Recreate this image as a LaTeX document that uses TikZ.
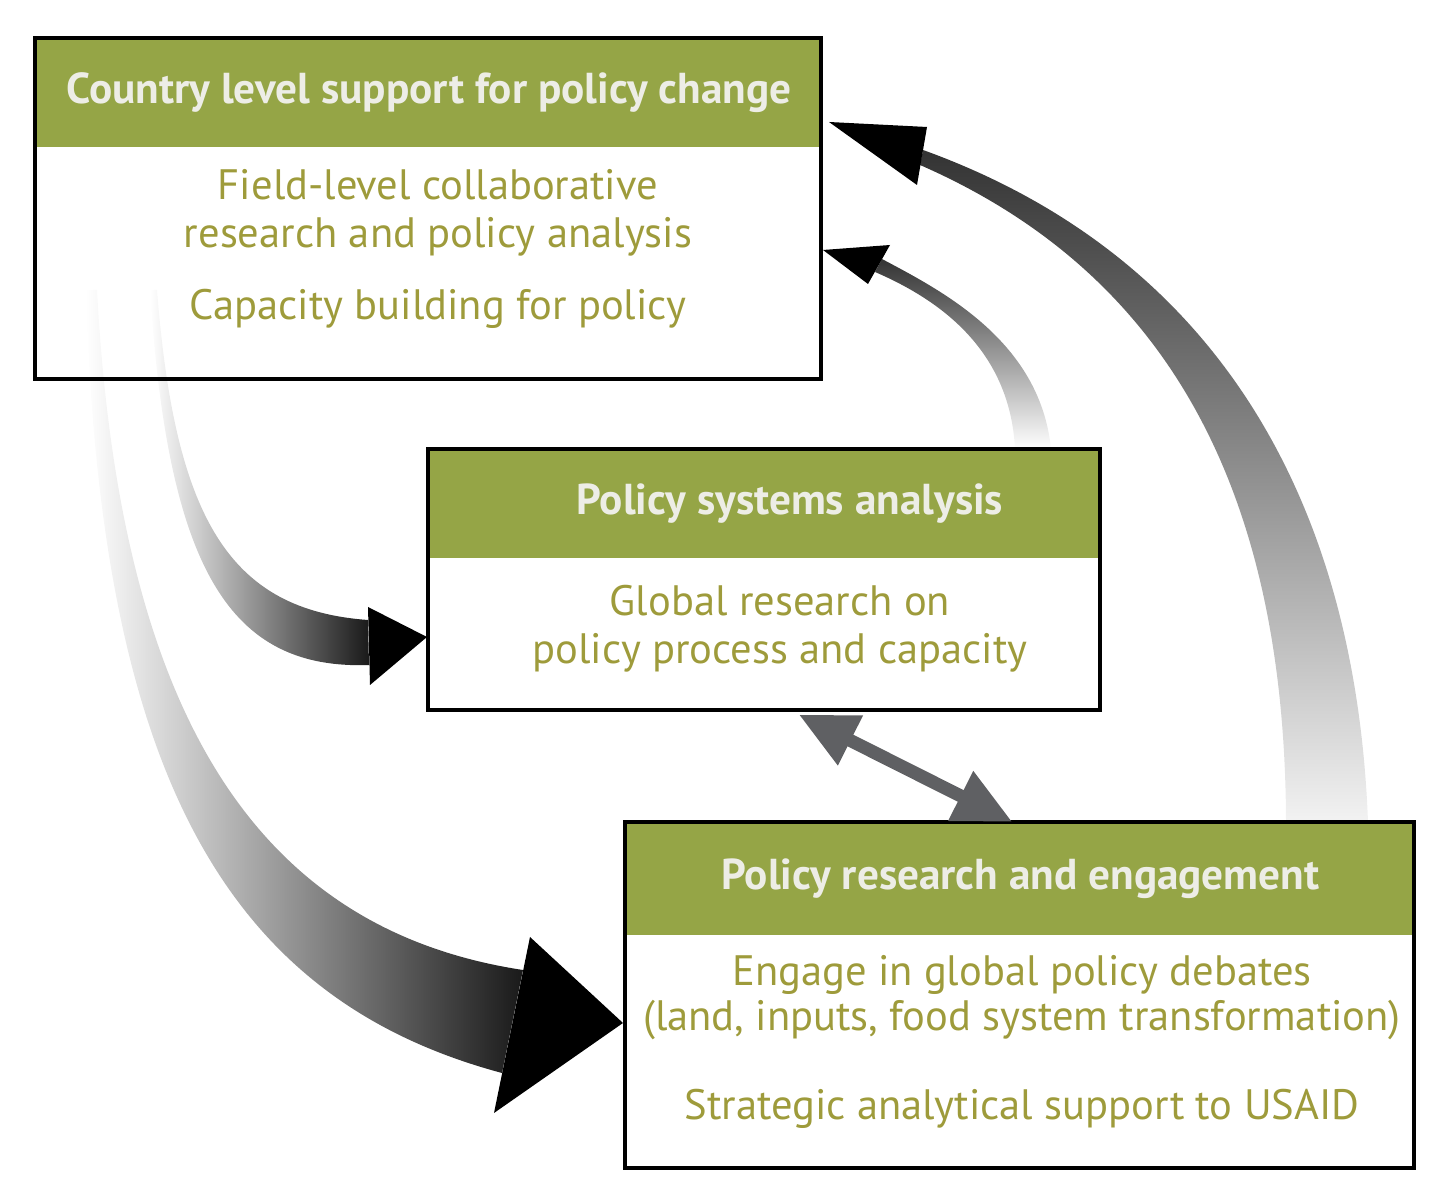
\documentclass[tikz,border=0pt]{standalone}
\usepackage{fontspec}
\setmainfont{PT Sans}
\usetikzlibrary{positioning,calc,arrows.meta}
\definecolor{hdrgreen}{HTML}{95A546}
\definecolor{txtgold}{HTML}{9E9B3B}
\definecolor{hdrtxt}{HTML}{EDEDE6}
\definecolor{linkgray}{HTML}{5F6063}
\tikzset{%
  >=latex,
  hdr/.style={fill=hdrgreen,text=hdrtxt,inner sep=0pt,anchor=north west,
    font=\bfseries\fontsize{12.3}{14}\selectfont},%
  bodytext/.style={text=txtgold,align=center,inner sep=0pt,
    font=\fontsize{12.1}{13.66}\selectfont},%
  frame/.style={line width=1.2pt},%
  headfill/.style={fill=black},%
  twoway/.style={{Triangle[length=0.58cm,width=0.52cm]}-{Triangle[length=0.58cm,width=0.52cm]},
    line width=0.13cm,draw=linkgray}%
}

\begin{document}
\begin{tikzpicture}[x=0.01cm,y=-0.01cm]
\useasboundingbox (0,0) rectangle (1436,1186);

% shaded arrows first, boxes are drawn over them
% country level -> policy research
\shade[left color=white,right color=black!90] (97,290) .. controls (120,720) and (260,930) .. (523,970)
  -- (502,1073) .. controls (230,1000) and (100,780) .. (86,290) -- cycle;
\fill[headfill] (530,937) -- (623,1023) -- (494,1113) -- cycle;

% country level -> policy systems
\shade[left color=white,right color=black!90] (157,290) .. controls (175,520) and (230,610) .. (368,620)
  -- (369,665) .. controls (230,670) and (168,570) .. (150,290) -- cycle;
\fill[headfill] (368,607) -- (427,637) -- (370,685) -- cycle;

% policy systems -> country level
\shade[top color=black!80,bottom color=white] (1051,449) .. controls (1040,340) and (940,290) .. (882,259)
  -- (875,272) .. controls (940,300) and (1010,350) .. (1015,449) -- cycle;
\fill[headfill] (890,245) -- (823,250) -- (868,284) -- cycle;

% policy research -> country level
\shade[top color=black!80,bottom color=white!95!black] (1368,822) .. controls (1355,480) and (1200,250) .. (923,150)
  -- (920,165) .. controls (1160,270) and (1285,480) .. (1286,822) -- cycle;
\fill[headfill] (927,127) -- (829,122) -- (917,185) -- cycle;

% boxes
\node[hdr,minimum width=7.86cm,minimum height=1.08cm] (cHead) at (35,38) {Country level support for policy change};
\draw[frame] (cHead.north west) rectangle ++(786,341);
\node[bodytext] (cBody) at (438,249) {Field-level collaborative\\research and policy analysis\\[0.24cm]Capacity building for policy};

\node[hdr,minimum width=6.72cm,minimum height=1.08cm] (sHead) at (428,449) {\hspace*{0.5cm}Policy systems analysis};
\draw[frame] (sHead.north west) rectangle ++(672,261);
\node[bodytext] (sBody) at (780,629) {Global research on\\policy process and capacity};

\node[hdr,minimum width=7.89cm,minimum height=1.12cm] (rHead) at (625,822) {Policy research and engagement};
\draw[frame] (rHead.north west) rectangle ++(789,346);
\node[bodytext] (rBody) at (1022,1042) {Engage in global policy debates\\[-1.1pt](land, inputs, food system transformation)\\[0.41cm]Strategic analytical support to USAID};

% two way link
\draw[twoway] ($(sHead.south west)!0.55!(sHead.south east)+(0,156)$) -- ($(rHead.north west)!0.49!(rHead.north east)$);
\end{tikzpicture}
\end{document}
